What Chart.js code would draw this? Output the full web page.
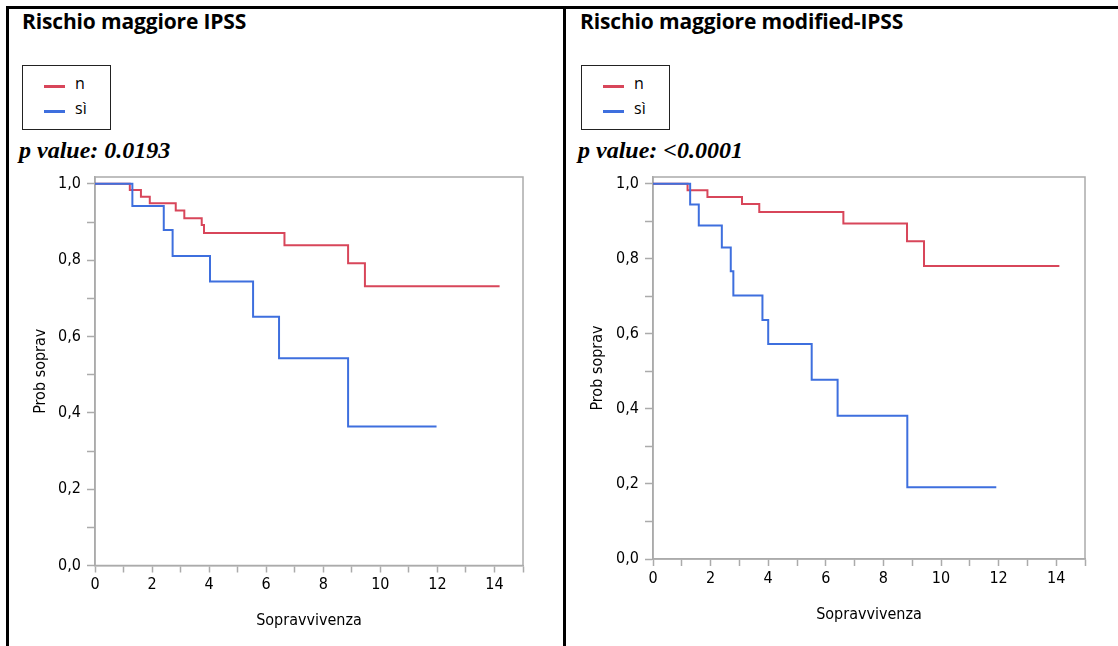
<!DOCTYPE html>
<html>
<head>
<meta charset="utf-8">
<script src="https://cdn.jsdelivr.net/npm/chart.js@4.4.0/dist/chart.umd.min.js"></script>
<style>
    html, body { margin: 0; padding: 0; background: #fff; }
    body { width: 1118px; height: 646px; position: relative; overflow: hidden; font-family: 'Open Sans', sans-serif; }
    .rule { position: absolute; background: #000; }
    .title { position: absolute; top: 7px; font: bold 21px 'Open Sans', sans-serif; color: #000; white-space: nowrap; letter-spacing: -0.15px; }
    .legend { position: absolute; top: 65px; width: 87px; height: 63px; border: 1.5px solid #222; }
    .legend .row { position: absolute; left: 21px; height: 20px; font: 16px 'Open Sans', sans-serif; }
    .legend .row i { position: absolute; left: 0; top: 9px; width: 21px; height: 2.5px; }
    .legend .row span { position: absolute; left: 31px; top: -4px; }
    .pval { position: absolute; top: 137px; font: italic bold 24px 'Liberation Serif', 'Times New Roman', serif; white-space: nowrap; }
    canvas { position: absolute; top: 170px; }
</style>
</head>
<body>
<div class="rule" style="left:6px;top:6px;width:1112px;height:3px"></div>
<div class="rule" style="left:6px;top:6px;width:3px;height:640px"></div>
<div class="rule" style="left:563px;top:6px;width:3px;height:640px"></div>

<div class="title" style="left:22px">Rischio maggiore IPSS</div>
<div class="legend" style="left:22px">
    <div class="row" style="top:10px"><i style="background:#d8465a"></i><span>n</span></div>
    <div class="row" style="top:35px"><i style="background:#3e6fde"></i><span>sì</span></div>
</div>
<div class="pval" style="left:19px">p value: 0.0193</div>
<canvas id="km-ipss" width="550" height="470" style="left:10px"></canvas>

<div class="title" style="left:580px">Rischio maggiore modified-IPSS</div>
<div class="legend" style="left:581px">
    <div class="row" style="top:10px"><i style="background:#d8465a"></i><span>n</span></div>
    <div class="row" style="top:35px"><i style="background:#3e6fde"></i><span>sì</span></div>
</div>
<div class="pval" style="left:578px">p value: &lt;0.0001</div>
<canvas id="km-mipss" width="550" height="470" style="left:568px"></canvas>

<script>
/* ---- Kaplan-Meier data ---- */
const ipssTimeN = [0, 1.22, 1.61, 1.92, 2.83, 3.13, 3.74, 3.82, 6.64, 8.87, 9.46, 14.18];
const ipssSurvN = [1, 0.984, 0.966, 0.949, 0.930, 0.910, 0.892, 0.871, 0.839, 0.792, 0.732, 0.732];
const ipssTimeS = [0, 1.31, 2.41, 2.72, 4.03, 5.54, 6.45, 8.87, 11.97];
const ipssSurvS = [1, 0.942, 0.879, 0.811, 0.744, 0.652, 0.543, 0.364, 0.364];

const mipssTimeN = [0, 1.20, 1.89, 3.09, 3.69, 6.61, 8.82, 9.41, 14.11];
const mipssSurvN = [1, 0.983, 0.965, 0.946, 0.925, 0.894, 0.847, 0.781, 0.781];
const mipssTimeS = [0, 1.29, 1.59, 2.39, 2.70, 2.79, 3.80, 4.00, 5.51, 6.41, 8.83, 11.92];
const mipssSurvS = [1, 0.945, 0.889, 0.830, 0.767, 0.702, 0.637, 0.573, 0.478, 0.382, 0.191, 0.191];

const GROUPS = ['n', 'sì'];
const COLORS = { n: '#d8465a', 'sì': '#3e6fde' };
const X_MIN = 0, X_MAX = 15, Y_MIN = 0, Y_MAX = 1.018;

const AXIS_GREY = '#ababab';
const TICK_FONT = { family: "'Liberation Sans Narrow', 'DejaVu Sans Condensed', sans-serif", size: 16 };

function pts(t, s) { return t.map((x, i) => ({ x, y: s[i] })); }

// grey box round the plot area
const frame = {
    id: 'frame',
    beforeDatasetsDraw(c) {
        const { ctx, chartArea: a } = c;
        ctx.save(); ctx.strokeStyle = AXIS_GREY; ctx.lineWidth = 1.5;
        ctx.strokeRect(a.left, a.top, a.right - a.left, a.bottom - a.top);
        ctx.restore();
    }
};

function makeKM(id, series, lay) {
    const datasets = series.map((s, i) => ({
        label: GROUPS[i], data: pts(s[0], s[1]),
        borderColor: COLORS[GROUPS[i]], borderWidth: 2,
        stepped: 'before', pointRadius: 0, fill: false,
        order: i === 1 ? 0 : 1
    }));
    return new Chart(document.getElementById(id), {
        type: 'line',
        data: { datasets },
        plugins: [frame],
        options: {
            responsive: false, animation: false,
            layout: { padding: { top: 7, right: lay.right, left: 0, bottom: 0 } },
            plugins: { legend: { display: false }, tooltip: { enabled: false } },
            scales: {
                x: {
                    type: 'linear', min: X_MIN, max: X_MAX,
                    grid: { drawOnChartArea: false, color: AXIS_GREY, tickLength: 7, tickWidth: 1.5 },
                    border: { color: AXIS_GREY, width: 1.5 },
                    ticks: { stepSize: 1, autoSkip: false, maxRotation: 0, includeBounds: false, padding: 3,
                             color: '#000', font: TICK_FONT,
                             callback: v => (v % 2 === 0 ? String(v) : '') },
                    title: { display: true, text: 'Sopravvivenza', color: '#000', font: TICK_FONT,
                             padding: { top: 0, bottom: lay.xTitlePad } },
                    afterFit: s => { s.height = lay.xHeight; s.paddingLeft = 0; s.paddingRight = 0; }
                },
                y: {
                    type: 'linear', min: Y_MIN, max: Y_MAX,
                    grid: { drawOnChartArea: false, color: AXIS_GREY, tickLength: 8, tickWidth: 1.5 },
                    border: { color: AXIS_GREY, width: 1.5 },
                    ticks: { stepSize: 0.1, autoSkip: false, includeBounds: false, padding: 6,
                             color: '#000', font: TICK_FONT,
                             callback: v => (Math.round(v * 10) % 2 === 0 ? v.toFixed(1).replace('.', ',') : '') },
                    title: { display: true, text: 'Prob soprav', color: '#000', font: TICK_FONT,
                             padding: { top: lay.yTitlePad, bottom: 0 } },
                    afterFit: s => { s.width = lay.yWidth; s.paddingTop = 0; s.paddingBottom = 0; }
                }
            }
        }
    });
}

makeKM('km-ipss', [[ipssTimeN, ipssSurvN], [ipssTimeS, ipssSurvS]],
       { right: 37, yWidth: 85, xHeight: 74.5, xTitlePad: 10, yTitlePad: 21 });
makeKM('km-mipss', [[mipssTimeN, mipssSurvN], [mipssTimeS, mipssSurvS]],
       { right: 33, yWidth: 85, xHeight: 81, xTitlePad: 16, yTitlePad: 20 });
</script>
</body>
</html>
